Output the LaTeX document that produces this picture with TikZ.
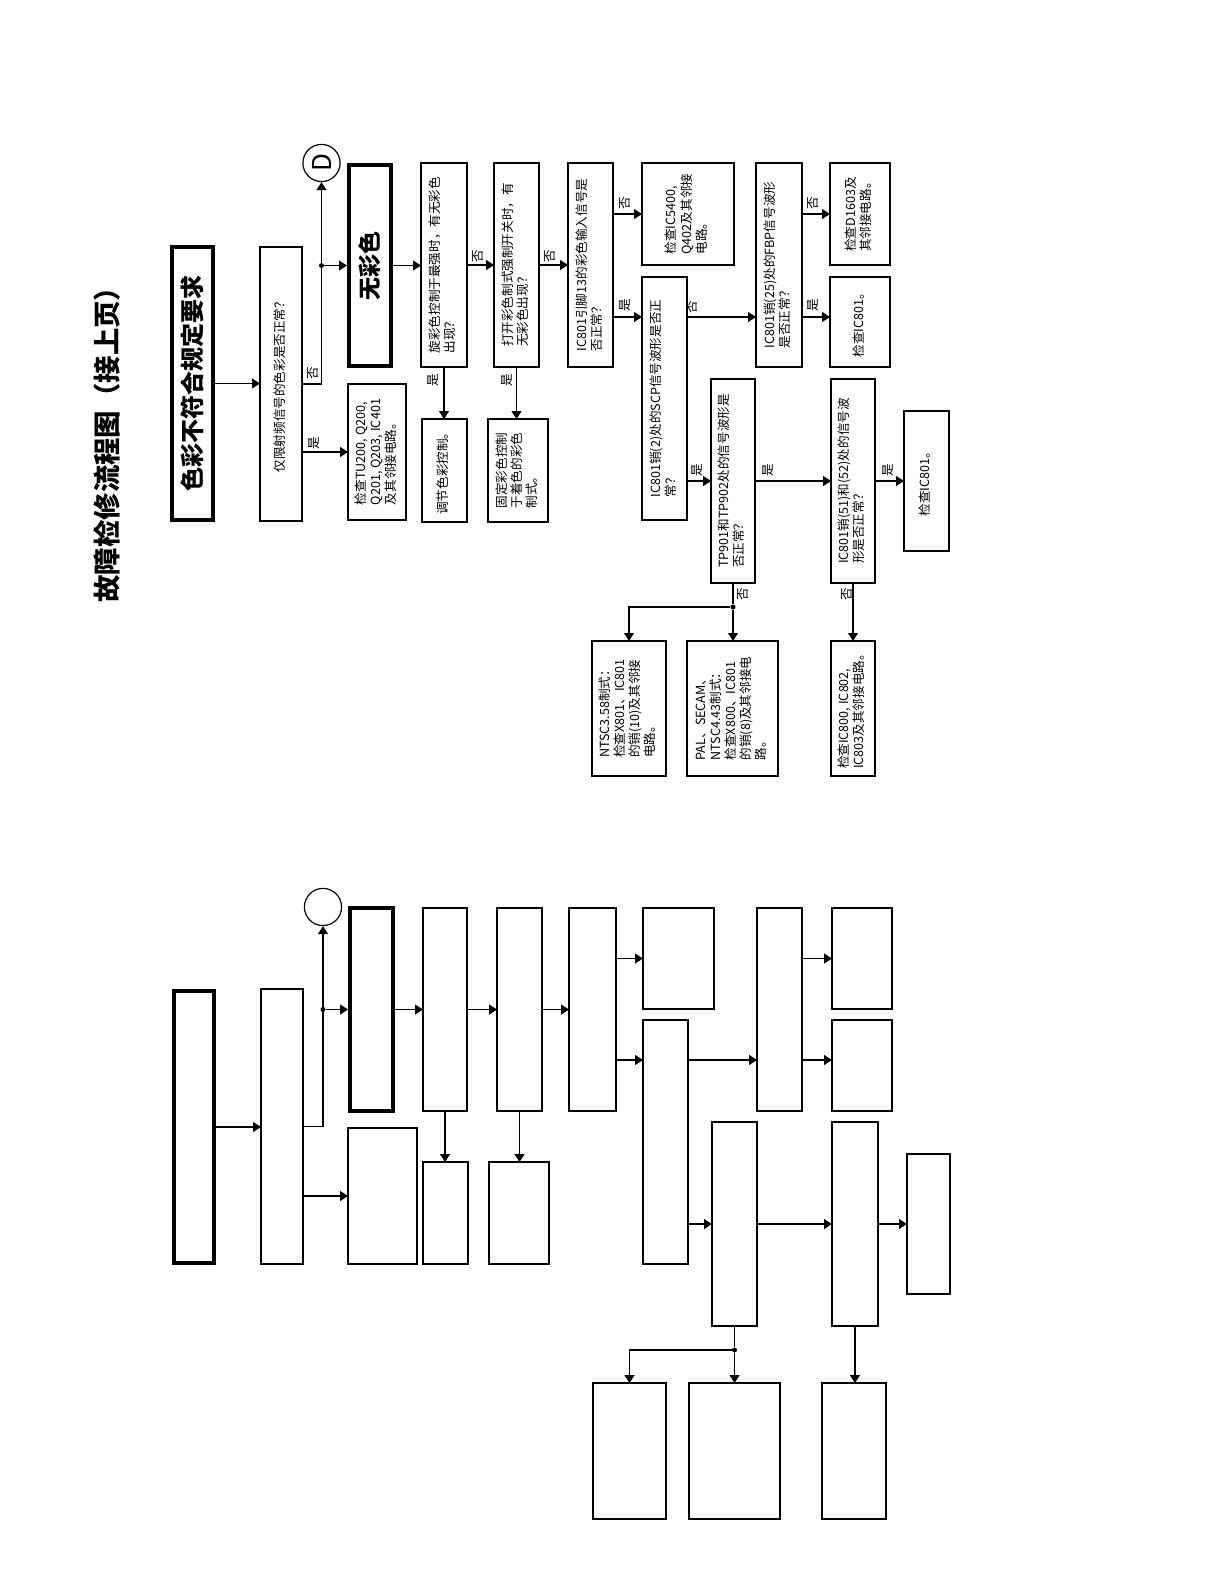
\documentclass[tikz,border=0pt]{standalone}
\usepackage{graphicx}
\usepackage{fontspec}
\setmainfont{Noto Sans CJK SC}
\usetikzlibrary{arrows.meta}

\newcommand{\boxfont}{\fontsize{6.3pt}{7.5pt}\selectfont}
\newcommand{\vtext}[1]{\rotatebox{90}{\begin{tabular}{@{}l@{}}#1\end{tabular}}}

\tikzset{
  box/.style={draw, line width=0.6pt, inner sep=0pt, outer sep=0pt, font=\boxfont},
  bigbox/.style={box, line width=2pt, outer sep=1pt},
  conn/.style={draw, circle, line width=0.6pt, inner sep=0pt, minimum size=18.6pt},
  flow/.style={-{Triangle[length=4pt,width=5pt]}, line width=0.6pt},
  link/.style={line width=0.6pt},
  lbl/.style={font=\boxfont, inner sep=0pt},
  dot/.style={circle, fill, inner sep=0pt, minimum size=2.5pt},
}

\begin{document}
\begin{tikzpicture}[x=0.5pt, y=-0.5pt]
\useasboundingbox (0,0) rectangle (1224,1584);

% titolo
\node[font=\fontsize{13.7pt}{16pt}\selectfont\bfseries] (title) at (107,438) {\rotatebox{90}{故障检修流程图（接上页）}};

% ---------------- schema con testo ----------------
% prima colonna
\node[bigbox, minimum width=20.5pt, minimum height=136.5pt, font=\fontsize{12pt}{14pt}\selectfont\bfseries] (t1) at (192.5,383.5) {\rotatebox{90}{色彩不符合规定要求}};
\node[box, minimum width=21pt, minimum height=137pt] (t2) at (281,384) {\vtext{仅限射频信号的色彩是否正常？}};
\node[conn, font=\fontsize{13pt}{13pt}\selectfont] (dd) at (321.5,163) {\rotatebox{90}{D}};
\node[bigbox, minimum width=21pt, minimum height=100.5pt, font=\fontsize{11.5pt}{13pt}\selectfont\bfseries] (t3) at (370,265.5) {\rotatebox{90}{无彩色}};
\node[box, minimum width=29pt, minimum height=68pt] (t4) at (377,452) {\vtext{检查TU200, Q200,\\Q201, Q203, IC401\\及其邻接电路。}};

% domande in fila
\node[box, minimum width=23pt, minimum height=102pt] (q1) at (444,265) {\vtext{旋彩色控制于最强时，有无彩色\\出现？}};
\node[box, minimum width=22.5pt, minimum height=51.5pt] (a1) at (444.5,470.5) {\vtext{调节色彩控制。}};
\node[box, minimum width=22.5pt, minimum height=102pt] (q2) at (516.5,265) {\vtext{打开彩色制式强制开关时，有\\无彩色出现？}};
\node[box, minimum width=30pt, minimum height=51.5pt] (a2) at (518,470.5) {\vtext{固定彩色控制\\于着色的彩色\\制式。}};
\node[box, minimum width=22.5pt, minimum height=102pt] (q3) at (590.5,265) {\vtext{IC801引脚13的彩色输入信号是\\否正常？}};
\node[box, minimum width=46pt, minimum height=51pt] (a3) at (688,214) {\vtext{检查IC5400,\\Q402及其邻接\\电路。}};
\node[box, minimum width=22.5pt, minimum height=121.5pt] (q4) at (664.5,398.5) {\vtext{IC801销(2)处的SCP信号波形是否正\\常？}};
\node[box, minimum width=23pt, minimum height=102pt] (q5) at (779,265) {\vtext{IC801销(25)处的FBP信号波形\\是否正常？}};
\node[box, minimum width=30pt, minimum height=51pt] (a4) at (860,214) {\vtext{检查D1603及\\其邻接电路。}};
\node[box, minimum width=30pt, minimum height=45pt] (a5) at (860,322) {\vtext{检查IC801。}};
\node[box, minimum width=22pt, minimum height=102pt] (q6) at (733,481) {\vtext{TP901和TP902处的信号波形是\\否正常？}};
\node[box, minimum width=22pt, minimum height=102pt] (q7) at (853,481) {\vtext{IC801销(51)和(52)处的信号波\\形是否正常？}};
\node[box, minimum width=22.5pt, minimum height=70pt] (a6) at (926.5,481) {\vtext{检查IC801。}};
\node[box, minimum width=37pt, minimum height=67.5pt] (a7) at (629,708.5) {\vtext{NTSC3.58制式：\\检查X801、IC801\\的销(10)及其邻接\\电路。}};
\node[box, minimum width=45.5pt, minimum height=67.5pt] (a8) at (732.5,708.5) {\vtext{PAL、SECAM、\\NTSC4.43制式：\\检查X800、IC801\\的销(8)及其邻接电\\路。}};
\node[box, minimum width=22pt, minimum height=67.5pt] (a9) at (853,708.5) {\vtext{检查IC800, IC802,\\IC803及其邻接电路。}};

% frecce
\draw[flow] (t1.east) -- (t1.east -| t2.west);
\draw[flow] (t2.east) -| (dd.south);
\node[dot] (j1) at (dd.south |- t3.west) {};
\draw[flow] (j1) -- (t3.west);
\draw[flow] (t2.east |- t4.west) -- (t4.west);
\draw[flow] (t3.east) -- (t3.east -| q1.west);
\draw[flow] (q1.east) -- (q1.east -| q2.west);
\draw[flow] (q2.east) -- (q2.east -| q3.west);
\draw[flow] (q1.south) -- (q1.south |- a1.north);
\draw[flow] (q2.south) -- (q2.south |- a2.north);
\draw[flow] (q3.east |- a3.west) -- (a3.west);
\draw[flow] ([yshift=25pt]q3.south east) coordinate (r2) -- (r2 -| q4.west);
\draw[flow] (r2 -| q4.east) -- (r2 -| q5.west);
\draw[flow] (q5.east |- a4.west) -- (a4.west);
\draw[flow] (r2 -| q5.east) -- (r2 -| a5.west);
\draw[flow] (q4.east |- q6.west) -- (q6.west);
\draw[flow] (q6.east) -- (q7.west);
\draw[flow] (q7.east) -- (q7.east -| a6.west);
\node[dot] (j2) at ([yshift=-12pt]q6.south) {};
\draw[link] (q6.south) -- (j2);
\draw[flow] (j2) -- (j2 |- a8.north);
\draw[flow] (j2) -| (a7.north);
\draw[flow] (q7.south) -- (q7.south |- a9.north);

% si / no
\node[lbl] (l1) at (313,373) {\rotatebox{90}{否}};
\node[lbl] (l2) at (314,443) {\rotatebox{90}{是}};
\node[lbl] (l3) at (478,256) {\rotatebox{90}{否}};
\node[lbl] (l4) at (550,256) {\rotatebox{90}{否}};
\node[lbl] (l5) at (433,380) {\rotatebox{90}{是}};
\node[lbl] (l6) at (507,380) {\rotatebox{90}{是}};
\node[lbl] (l7) at (625,203) {\rotatebox{90}{否}};
\node[lbl] (l8) at (625,305) {\rotatebox{90}{是}};
\node[lbl] (l9) at (692,307) {\rotatebox{90}{否}};
\node[lbl] (l10) at (813,203) {\rotatebox{90}{否}};
\node[lbl] (l11) at (813,305) {\rotatebox{90}{是}};
\node[lbl] (l12) at (697,470) {\rotatebox{90}{是}};
\node[lbl] (l13) at (768,470) {\rotatebox{90}{是}};
\node[lbl] (l14) at (888,470) {\rotatebox{90}{是}};
\node[lbl] (l15) at (743,594) {\rotatebox{90}{否}};
\node[lbl] (l16) at (847,594) {\rotatebox{90}{否}};

% ---------------- schema vuoto ----------------
\node[bigbox, minimum width=20pt, minimum height=136pt] (bt1) at (194,1127) {};
\node[box, minimum width=21pt, minimum height=137.5pt] (bt2) at (282,1126.5) {};
\node[conn] (bdd) at (323,907) {};
\node[bigbox, minimum width=21.5pt, minimum height=101.5pt] (bt3) at (371.5,1009.5) {};
\node[box, minimum width=34.5pt, minimum height=68pt] (bt4) at (382.5,1196) {};
\node[box, minimum width=22pt, minimum height=101.5pt] (bq1) at (445,1009.5) {};
\node[box, minimum width=22.5pt, minimum height=51pt] (ba1) at (445.5,1213) {};
\node[box, minimum width=22.5pt, minimum height=101.5pt] (bq2) at (519.5,1009.5) {};
\node[box, minimum width=30pt, minimum height=51pt] (ba2) at (519,1213) {};
\node[box, minimum width=23.5pt, minimum height=101.5pt] (bq3) at (592.5,1009.5) {};
\node[box, minimum width=35.5pt, minimum height=50.5pt] (ba3) at (678.5,958.5) {};
\node[box, minimum width=22.5pt, minimum height=122pt] (bq4) at (665.5,1142) {};
\node[box, minimum width=22.5pt, minimum height=101.5pt] (bq5) at (779.5,1009.5) {};
\node[box, minimum width=30pt, minimum height=50.5pt] (ba4) at (862,958.5) {};
\node[box, minimum width=30pt, minimum height=45.5pt] (ba5) at (862,1065.5) {};
\node[box, minimum width=22.5pt, minimum height=102pt] (bq6) at (734.5,1224) {};
\node[box, minimum width=23pt, minimum height=102pt] (bq7) at (855,1224) {};
\node[box, minimum width=21.5pt, minimum height=70pt] (ba6) at (928.5,1224) {};
\node[box, minimum width=36.5pt, minimum height=68pt] (ba7) at (629.5,1451) {};
\node[box, minimum width=45.5pt, minimum height=68pt] (ba8) at (734.5,1451) {};
\node[box, minimum width=32pt, minimum height=68pt] (ba9) at (854,1451) {};

\draw[flow] (bt1.east) -- (bt1.east -| bt2.west);
\draw[flow] (bt2.east) -| (bdd.south);
\node[dot] (bj1) at (bdd.south |- bt3.west) {};
\draw[flow] (bj1) -- (bt3.west);
\draw[flow] (bt2.east |- bt4.west) -- (bt4.west);
\draw[flow] (bt3.east) -- (bt3.east -| bq1.west);
\draw[flow] (bq1.east) -- (bq1.east -| bq2.west);
\draw[flow] (bq2.east) -- (bq2.east -| bq3.west);
\draw[flow] (bq1.south) -- (bq1.south |- ba1.north);
\draw[flow] (bq2.south) -- (bq2.south |- ba2.north);
\draw[flow] (bq3.east |- ba3.west) -- (ba3.west);
\draw[flow] ([yshift=25.5pt]bq3.south east) coordinate (br2) -- (br2 -| bq4.west);
\draw[flow] (br2 -| bq4.east) -- (br2 -| bq5.west);
\draw[flow] (bq5.east |- ba4.west) -- (ba4.west);
\draw[flow] (br2 -| bq5.east) -- (br2 -| ba5.west);
\draw[flow] (bq4.east |- bq6.west) -- (bq6.west);
\draw[flow] (bq6.east) -- (bq7.west);
\draw[flow] (bq7.east) -- (bq7.east -| ba6.west);
\node[dot] (bj2) at ([yshift=-12pt]bq6.south) {};
\draw[link] (bq6.south) -- (bj2);
\draw[flow] (bj2) -- (bj2 |- ba8.north);
\draw[flow] (bj2) -| (ba7.north);
\draw[flow] (bq7.south) -- (bq7.south |- ba9.north);

\end{tikzpicture}
\end{document}
